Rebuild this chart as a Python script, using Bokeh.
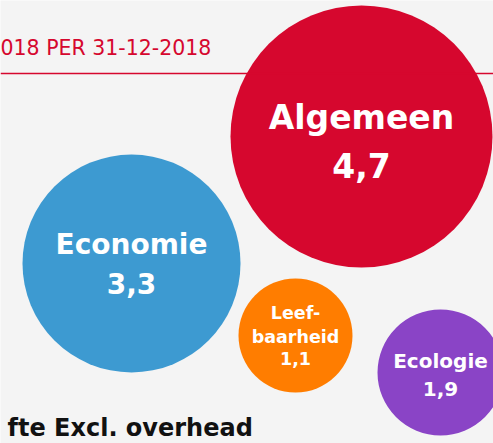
from bokeh.plotting import figure
from bokeh.models import ColumnDataSource, Range1d, Span
from bokeh.core.properties import value
from bokeh.embed import file_html
from bokeh.resources import INLINE

# ---- data ----
categories = ["Algemeen", "Economie", "Leefbaarheid", "Ecologie"]
fte_values = [4.7, 3.3, 1.1, 1.9]
name_lines = [["Algemeen"], ["Economie"], ["Leef-", "baarheid"], ["Ecologie"]]
title_text = "018 PER 31-12-2018"
footer_text = "fte Excl. overhead"

# ---- layout / style (pixel coordinates) ----
cx = [361, 131, 295, 440]
cy = [136, 263, 335, 372]
rad = [131, 109, 57, 63]
colors = ["#D6072E", "#3D9AD1", "#FF7D00", "#8A44C6"]
font_px = [33, 28, 17.5, 20]
line_y = [[117, 165], [244, 283], [312, 336, 358], [360, 388]]

W, H = 493, 443
p = figure(width=W, height=H, x_range=Range1d(0, W), y_range=Range1d(H, 0),
           output_backend="svg", toolbar_location=None, min_border=0)
p.axis.visible = False
p.grid.visible = False
p.outline_line_color = None
p.background_fill_color = "#F4F4F4"
p.border_fill_color = "#F4F4F4"

# red rule under title
p.add_layout(Span(location=73, dimension="width", line_color="#D6072E", line_width=1.5))

p.text(x=[0], y=[47], text=[title_text], text_color="#D6072E",
       text_font=value("DejaVu Sans"), text_font_size="20.5px",
       text_baseline="middle", text_align="left")

src = ColumnDataSource(dict(x=cx, y=cy, r=rad, c=colors))
p.circle(x="x", y="y", radius="r", fill_color="c", line_color=None, source=src)

tx, ty, tt, ts = [], [], [], []
for i, cat in enumerate(categories):
    lines = name_lines[i] + [f"{fte_values[i]:.1f}".replace(".", ",")]
    for j, t in enumerate(lines):
        tx.append(cx[i])
        ty.append(line_y[i][j])
        tt.append(t)
        ts.append(f"{font_px[i]}px")
lsrc = ColumnDataSource(dict(x=tx, y=ty, t=tt, s=ts))
p.text(x="x", y="y", text="t", text_font_size="s", source=lsrc,
       text_color="white", text_font=value("DejaVu Sans"), text_font_style="bold",
       text_align="center", text_baseline="middle")

p.text(x=[7], y=[427], text=[footer_text], text_color="#111111",
       text_font=value("DejaVu Sans"), text_font_style="bold", text_font_size="24px",
       text_baseline="middle", text_align="left")

open("out.html", "w").write(file_html(p, INLINE))
